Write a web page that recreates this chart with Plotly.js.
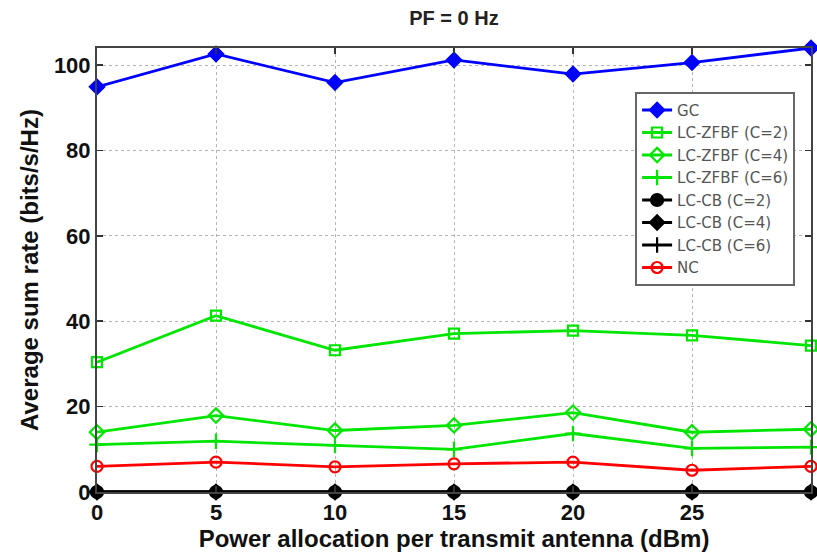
<!DOCTYPE html>
<html>
<head>
<meta charset="utf-8">
<script src="https://cdn.plot.ly/plotly-3.0.1.min.js"></script>
<style>
  html, body { margin: 0; padding: 0; background: #ffffff; }
  #chart { width: 817px; height: 554px; }
</style>
</head>
<body>
<div id="chart"></div>
<script>
// Power allocation per transmit antenna (dBm)
const power = [0, 5, 10, 15, 20, 25, 30];

// Average sum rate (bits/s/Hz) for each scheme
const gc        = [94.9, 102.6, 95.9, 101.2, 97.9, 100.6, 104.0];
const zfbfC2    = [30.4, 41.3, 33.2, 37.1, 37.8, 36.7, 34.3];
const zfbfC4    = [14.0, 17.9, 14.4, 15.6, 18.6, 14.0, 14.7];
const zfbfC6    = [11.1, 11.9, 10.9, 10.0, 13.7, 10.2, 10.5];
const cbC2      = [0, 0, 0, 0, 0, 0, 0];
const cbC4      = [0, 0, 0, 0, 0, 0, 0];
const cbC6      = [0, 0, 0, 0, 0, 0, 0];
const nc        = [6.0, 7.0, 5.9, 6.6, 7.0, 5.1, 6.0];

const xTicks = [0, 5, 10, 15, 20, 25];
const yTicks = [0, 20, 40, 60, 80, 100];

const BLUE = '#0000ff', GREEN = '#00e600', BLACK = '#000000', RED = '#ff0000';

function series(name, y, color, symbol, size) {
  return {
    type: 'scatter', mode: 'lines+markers', name: name,
    x: power, y: y, cliponaxis: false,
    line: { color: color, width: 2.8 },
    marker: { symbol: symbol, size: size, color: color,
              line: { color: color, width: 2.2 } }
  };
}

const traces = [
  series('GC', gc, BLUE, 'diamond', 11),
  series('LC-ZFBF (C=2)', zfbfC2, GREEN, 'square-open', 10),
  series('LC-ZFBF (C=4)', zfbfC4, GREEN, 'diamond-open', 11),
  series('LC-ZFBF (C=6)', zfbfC6, GREEN, 'cross-thin-open', 11),
  series('LC-CB (C=2)', cbC2, BLACK, 'circle', 12),
  series('LC-CB (C=4)', cbC4, BLACK, 'diamond', 11),
  series('LC-CB (C=6)', cbC6, BLACK, 'cross-thin-open', 11),
  series('NC', nc, RED, 'circle-open', 11)
];

const FONT = 'Liberation Sans, Arial, sans-serif';

const layout = {
  width: 817, height: 554,
  margin: { l: 97, r: 6, t: 48, b: 62 },
  paper_bgcolor: '#ffffff', plot_bgcolor: '#ffffff',
  showlegend: true,
  title: {
    text: '<b>PF = 0 Hz</b>',
    font: { family: FONT, size: 20, color: '#222222' },
    xref: 'paper', x: 0.5, xanchor: 'center',
    yref: 'container', y: 0.967, yanchor: 'middle'
  },
  xaxis: {
    range: [0, 30], tickvals: xTicks, ticktext: xTicks.map(String),
    ticks: 'inside', ticklen: 6, tickwidth: 1.5, tickcolor: '#333333',
    showline: true, linecolor: '#444444', linewidth: 2, mirror: 'ticks',
    showgrid: true, gridcolor: '#b4b4b4', gridwidth: 1, griddash: 'dot',
    zeroline: false,
    tickfont: { family: FONT, size: 22, color: '#111111', weight: 'bold' },
    title: { text: 'Power allocation per transmit antenna (dBm)',
             font: { family: FONT, size: 24, color: '#111111', weight: 'bold' },
             standoff: 6 }
  },
  yaxis: {
    range: [0, 104], tickvals: yTicks, ticktext: yTicks.map(String),
    ticks: 'inside', ticklen: 6, tickwidth: 1.5, tickcolor: '#333333',
    showline: true, linecolor: '#444444', linewidth: 2, mirror: 'ticks',
    showgrid: true, gridcolor: '#b4b4b4', gridwidth: 1, griddash: 'dot',
    zeroline: false,
    tickfont: { family: FONT, size: 22, color: '#111111', weight: 'bold' },
    title: { text: 'Average sum rate (bits/s/Hz)',
             font: { family: FONT, size: 24, color: '#111111', weight: 'bold' },
             standoff: 8 }
  },
  legend: {
    x: 0.978, xanchor: 'right', y: 0.901, yanchor: 'top',
    bgcolor: '#ffffff', bordercolor: '#666666', borderwidth: 1.8,
    font: { family: 'DejaVu Sans, sans-serif', size: 15, color: '#555555' },
    tracegroupgap: 0, itemwidth: 30
  }
};

Plotly.newPlot('chart', traces, layout, { displayModeBar: false, staticPlot: true });
</script>
</body>
</html>
